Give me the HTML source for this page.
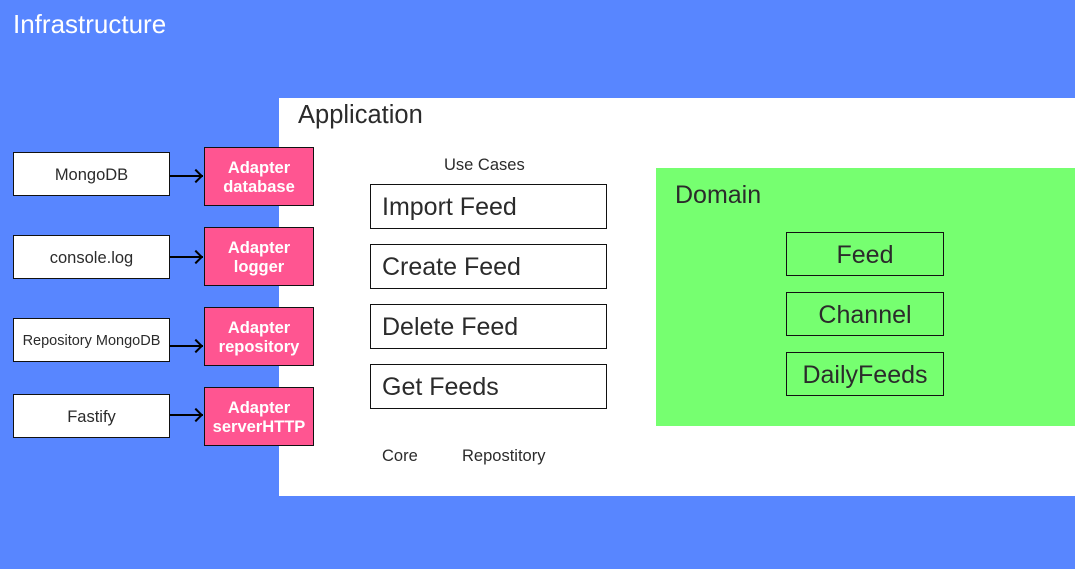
<!DOCTYPE html>
<html><head><style>
body{margin:0;width:1075px;height:569px;background:#5886ff;position:relative;overflow:hidden;font-family:"Liberation Sans",sans-serif;color:#2b2b2b}
div{position:absolute;box-sizing:border-box}
.w{background:#fff;border:1.5px solid #111;display:flex;align-items:center;justify-content:center;font-size:16.5px;padding-top:2px}
.p{background:#ff5591;border:1.5px solid #111;color:#fff;font-weight:bold;font-size:16.5px;text-align:center;line-height:19px;display:flex;align-items:center;justify-content:center;padding-top:2px}
.u{background:#fff;border:1.5px solid #111;font-size:25px;display:flex;align-items:center;padding-left:11px;padding-top:2px}
.d{border:1.5px solid #111;font-size:25px;display:flex;align-items:center;justify-content:center;padding-top:2px}
.a{height:2px;background:#000}
.h{width:10px;height:10px;border-top:2px solid #000;border-right:2px solid #000;transform:rotate(45deg)}
</style></head><body>
<div style="left:13px;top:9px;font-size:26px;color:#fff">Infrastructure</div>
<div style="left:279px;top:98px;width:796px;height:398px;background:#fff"></div>
<div style="left:298px;top:101px;font-size:25.5px">Application</div>
<div style="left:444px;top:156px;font-size:16.5px">Use Cases</div>
<div style="left:382px;top:447px;font-size:16.5px">Core</div>
<div style="left:462px;top:447px;font-size:16.5px">Repostitory</div>
<div class="u" style="left:370px;top:184px;width:237px;height:45px">Import Feed</div>
<div class="u" style="left:370px;top:244px;width:237px;height:45px">Create Feed</div>
<div class="u" style="left:370px;top:304px;width:237px;height:45px">Delete Feed</div>
<div class="u" style="left:370px;top:364px;width:237px;height:45px">Get Feeds</div>
<div style="left:656px;top:168px;width:419px;height:258px;background:#76ff70"></div>
<div style="left:675px;top:181px;font-size:25px">Domain</div>
<div class="d" style="left:786px;top:232px;width:158px;height:44px">Feed</div>
<div class="d" style="left:786px;top:292px;width:158px;height:44px">Channel</div>
<div class="d" style="left:786px;top:352px;width:158px;height:44px">DailyFeeds</div>

<div class="w" style="left:13px;top:152px;width:157px;height:44px">MongoDB</div>
<div class="w" style="left:13px;top:235px;width:157px;height:44px">console.log</div>
<div class="w" style="left:13px;top:318px;width:157px;height:44px;font-size:14.5px">Repository MongoDB</div>
<div class="w" style="left:13px;top:394px;width:157px;height:44px">Fastify</div>

<div class="p" style="left:204px;top:147px;width:110px;height:59px">Adapter<br>database</div>
<div class="p" style="left:204px;top:227px;width:110px;height:59px">Adapter<br>logger</div>
<div class="p" style="left:204px;top:307px;width:110px;height:59px">Adapter<br>repository</div>
<div class="p" style="left:204px;top:387px;width:110px;height:59px">Adapter<br>serverHTTP</div>

<div class="a" style="left:170px;top:175px;width:33px"></div><div class="h" style="left:191px;top:171px"></div>
<div class="a" style="left:170px;top:256px;width:33px"></div><div class="h" style="left:191px;top:252px"></div>
<div class="a" style="left:170px;top:345px;width:33px"></div><div class="h" style="left:191px;top:341px"></div>
<div class="a" style="left:170px;top:414px;width:33px"></div><div class="h" style="left:191px;top:410px"></div>
</body></html>
